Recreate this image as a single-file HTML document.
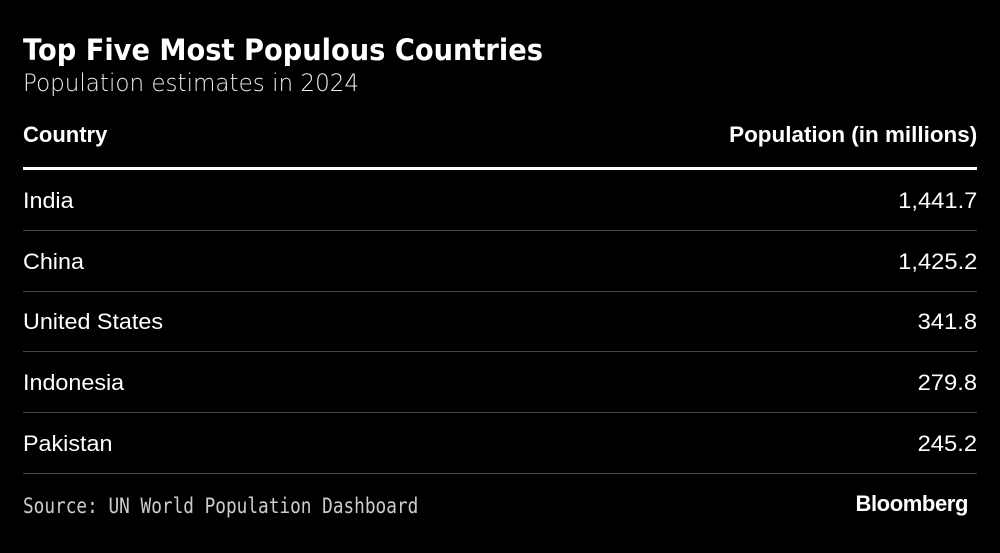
<!DOCTYPE html>
<html><head><meta charset="utf-8"><style>
body{margin:0;background:#000;}
#c{position:relative;width:1000px;height:553px;background:#000;color:#fff;font-family:"Liberation Sans",sans-serif;overflow:hidden}
.a{position:absolute;white-space:nowrap;line-height:1}
.r{position:absolute;left:23px;width:954px;height:60px}
.r .n{position:absolute;left:0;top:17px;font-size:22px;transform:scaleX(1.06);transform-origin:left}
.r .v{position:absolute;right:0;top:17px;font-size:22px;transform:scaleX(1.08);transform-origin:right}
.r .l{position:absolute;left:0;right:0;bottom:0;height:1px;background:#444}
</style></head><body>
<div id="c">
<div class="a" style="left:23px;top:36px;font-size:29px;font-weight:bold;font-family:'DejaVu Sans',sans-serif;transform:scaleX(0.94);transform-origin:left">Top Five Most Populous Countries</div>
<div class="a" style="left:23px;top:71px;font-size:24px;font-family:'DejaVu Sans',sans-serif;font-weight:300;color:#eee;transform:scaleX(0.96);transform-origin:left">Population estimates in 2024</div>
<div class="a" style="left:23px;top:124px;font-size:22px;font-weight:bold">Country</div>
<div class="a" style="right:23px;top:124px;font-size:22px;font-weight:bold;transform:scaleX(1.02);transform-origin:right">Population (in millions)</div>
<div class="a" style="left:23px;width:954px;top:167px;height:3px;background:#fff"></div>
<div id="rows"></div>
<div class="a" style="left:23px;top:496px;font-size:21px;font-family:'DejaVu Sans Mono','Liberation Mono',monospace;color:#ccc;transform:scaleX(0.845);transform-origin:left">Source: UN World Population Dashboard</div>
<div class="a" style="right:32px;top:493px;font-size:22px;font-weight:bold;letter-spacing:-0.4px">Bloomberg</div>
</div>
<script>
const countries=["India","China","United States","Indonesia","Pakistan"];
const populations=["1,441.7","1,425.2","341.8","279.8","245.2"];
const rows=document.getElementById('rows');
countries.forEach((c,i)=>{
 const r=document.createElement('div');r.className='r';r.style.top=(171+i*60.7)+'px';
 
 
 const n=document.createElement('div');n.className='n';n.textContent=c;
 
 
 const v=document.createElement('div');v.className='v';v.textContent=populations[i];
 
 
 const l=document.createElement('div');l.className='l';
 
 
 r.append(n,v,l);rows.appendChild(r);
});
</script>
</body></html>
